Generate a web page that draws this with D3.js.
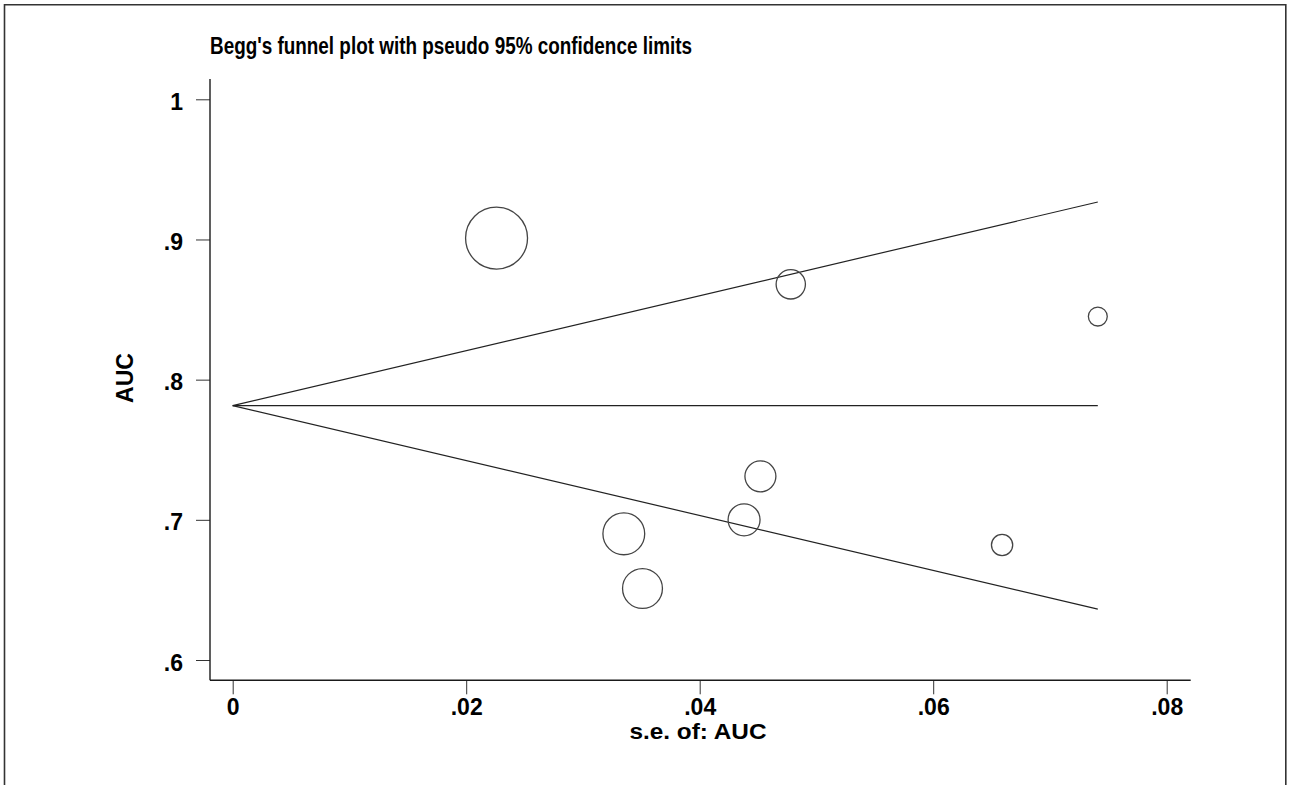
<!DOCTYPE html>
<html>
<head>
<meta charset="utf-8">
<script src="https://cdn.jsdelivr.net/npm/d3@7"></script>
<style>
  html, body { margin: 0; padding: 0; background: #fff; }
  svg { display: block; }
  text { font-family: "Liberation Sans", Arial, sans-serif; fill: #000; font-weight: bold; }
</style>
</head>
<body>
<svg id="chart" width="1291" height="785"></svg>
<script>
// ---- data ----
const studySE  = [0.0226, 0.0478, 0.0452, 0.0438, 0.0335, 0.0351, 0.0741, 0.0659];
const studyAUC = [0.901, 0.868, 0.731, 0.700, 0.690, 0.651, 0.845, 0.682];
const pooledAUC = 0.7815;
const seMax = 0.0741;
const xTicks = [0, 0.02, 0.04, 0.06, 0.08];
const xTickLabels = ["0", ".02", ".04", ".06", ".08"];
const yTicks = [0.6, 0.7, 0.8, 0.9, 1];
const yTickLabels = [".6", ".7", ".8", ".9", "1"];
const titleText = "Begg's funnel plot with pseudo 95% confidence limits";
const xLabel = "s.e. of: AUC";
const yLabel = "AUC";

// ---- layout ----
const svg = d3.select("#chart");
const x = d3.scaleLinear().domain([0, 0.08]).range([232.7, 1166.7]);
const y = d3.scaleLinear().domain([0.6, 1]).range([660, 99.3]);
const axisLeftX = 210, axisBottomY = 680.3;
const axisTopY = 79, axisRightX = 1190.7;
const ink = "#1a1a1a";
const fontStack = "Liberation Sans, Arial, sans-serif";

// outer frame (left, top, right)
svg.append("path")
  .attr("d", `M4.5,785 V4.8 H1285.8 V785`)
  .attr("fill", "none").attr("stroke", "#333").attr("stroke-width", 1.6);

// title
svg.append("text")
  .attr("x", 210).attr("y", 53.5)
  .attr("font-size", 23.5)
  .attr("textLength", 482).attr("lengthAdjust", "spacingAndGlyphs")
  .text(titleText);

// axes
const gx = svg.append("g").attr("transform", `translate(0,${axisBottomY})`)
  .call(d3.axisBottom(x).tickValues(xTicks).tickFormat((d, i) => xTickLabels[i]).tickSize(14).tickSizeOuter(0));
gx.select(".domain").remove();
gx.selectAll(".tick line").attr("stroke", "#333").attr("stroke-width", 1);
gx.selectAll(".tick text").attr("font-size", 23).attr("font-family", fontStack).attr("font-weight", "bold").attr("fill", "#000")
  .attr("dy", null).attr("y", 34.5);
svg.append("line").attr("x1", axisLeftX).attr("x2", axisRightX)
  .attr("y1", axisBottomY).attr("y2", axisBottomY).attr("stroke", ink).attr("stroke-width", 1.4);

const gy = svg.append("g").attr("transform", `translate(${axisLeftX},0)`)
  .call(d3.axisLeft(y).tickValues(yTicks).tickFormat((d, i) => yTickLabels[i]).tickSize(14).tickPadding(13).tickSizeOuter(0));
gy.select(".domain").remove();
gy.selectAll(".tick line").attr("stroke", "#333").attr("stroke-width", 1);
gy.selectAll(".tick text").attr("font-size", 23).attr("font-family", fontStack).attr("font-weight", "bold").attr("fill", "#000")
  .attr("dy", null).attr("y", 10);
svg.append("line").attr("x1", axisLeftX).attr("x2", axisLeftX)
  .attr("y1", axisTopY).attr("y2", axisBottomY).attr("stroke", ink).attr("stroke-width", 1.4);

// axis titles
svg.append("text")
  .attr("x", 698).attr("y", 739)
  .attr("text-anchor", "middle").attr("font-size", 21.5)
  .attr("textLength", 137).attr("lengthAdjust", "spacingAndGlyphs")
  .text(xLabel);
svg.append("text")
  .attr("transform", `translate(133,378) rotate(-90)`)
  .attr("text-anchor", "middle").attr("font-size", 24)
  .attr("textLength", 50).attr("lengthAdjust", "spacingAndGlyphs")
  .text(yLabel);

// funnel lines
const z = 1.96;
const lineGen = d3.line().x(d => x(d[0])).y(d => y(d[1]));
const funnel = [
  [[0, pooledAUC], [seMax, pooledAUC]],
  [[0, pooledAUC], [seMax, pooledAUC + z * seMax]],
  [[0, pooledAUC], [seMax, pooledAUC - z * seMax]]
];
svg.append("g").selectAll("path").data(funnel).join("path")
  .attr("d", lineGen).attr("fill", "none").attr("stroke", "#222").attr("stroke-width", 1.2);

// study circles: area proportional to inverse-variance weight
const weights = studySE.map(s => 1 / (s * s));
const r = d3.scaleSqrt().domain([0, d3.max(weights)]).range([0, 0.7 * Math.sqrt(d3.max(weights))]);
svg.append("g").selectAll("circle").data(studySE.map((s, i) => ({ se: s, auc: studyAUC[i], w: weights[i] })))
  .join("circle")
  .attr("cx", d => x(d.se)).attr("cy", d => y(d.auc)).attr("r", d => r(d.w))
  .attr("fill", "none").attr("stroke", "#444").attr("stroke-width", 1.3);
</script>
</body>
</html>
